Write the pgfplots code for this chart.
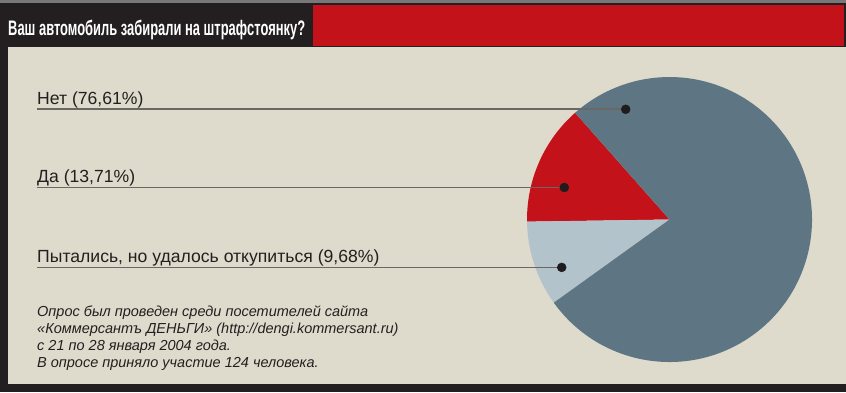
\documentclass[border=0pt]{standalone}
\usepackage{pgfplots}
\pgfplotsset{compat=1.18}
\usepackage{pgfplotstable}
\usepackage{graphicx}
\usepackage{fontspec}
\setmainfont{Liberation Sans}

\definecolor{beige}{RGB}{222,219,204}
\definecolor{hdr}{RGB}{35,31,32}
\definecolor{redc}{RGB}{196,18,26}
\definecolor{netc}{RGB}{94,118,131}
\definecolor{pytc}{RGB}{178,195,204}
\definecolor{linec}{RGB}{105,104,100}
\definecolor{dotc}{RGB}{30,28,28}
\definecolor{textc}{RGB}{35,31,32}
\definecolor{bordc}{RGB}{120,120,120}

\pgfplotstableread{
label pct
Da 13.71
Pyt 9.68
Net 76.61
}\piedata

\begin{document}
\begin{tikzpicture}[x=1bp,y=-1bp]
\pgfplotstablegetelem{0}{pct}\of\piedata \let\pDa\pgfplotsretval
\pgfplotstablegetelem{1}{pct}\of\piedata \let\pPy\pgfplotsretval
\pgfplotstablegetelem{2}{pct}\of\piedata \let\pNet\pgfplotsretval
\pgfmathsetmacro\aA{131.5}
\pgfmathsetmacro\aB{\aA+3.6*\pDa}
\pgfmathsetmacro\aC{\aB+3.6*\pPy}
\pgfmathsetmacro\aD{\aC+3.6*\pNet}

% frame
\fill[bordc] (0,0) rectangle (846,392);
\fill[hdr] (0,3) rectangle (846,392);
\fill[redc] (313,5) rectangle (844,46);
\fill[beige] (8,47) rectangle (846,384);

% title
\node[anchor=base west, inner sep=0, text=white] at (8,35)
  {\resizebox{297bp}{\height}{\fontsize{21bp}{21bp}\selectfont\bfseries Ваш автомобиль забирали на штрафстоянку?}};

\begin{axis}[at={(669.5bp,-219.5bp)}, anchor=origin,
  width=285bp, height=285bp, scale only axis,
  xmin=-1, xmax=1, ymin=-1, ymax=1,
  hide axis, clip=false]
  \fill[redc] (axis cs:0,0) -- ++(\aA:142.5bp) arc[start angle=\aA, end angle=\aB, radius=142.5bp] -- cycle;
  \fill[pytc] (axis cs:0,0) -- ++(\aB:142.5bp) arc[start angle=\aB, end angle=\aC, radius=142.5bp] -- cycle;
  \fill[netc] (axis cs:0,0) -- ++(\aC:142.5bp) arc[start angle=\aC, end angle=\aD, radius=142.5bp] -- cycle;
  \addplot[draw=linec, line width=1.8bp, forget plot] coordinates {(-4.4386,0.7733) (-0.3074,0.7733)};
  \addplot[draw=linec, line width=1.8bp, forget plot] coordinates {(-4.4386,0.2246) (-0.7382,0.2246)};
  \addplot[draw=linec, line width=1.8bp, forget plot] coordinates {(-4.4386,-0.3361) (-0.7565,-0.3361)};
  \addplot[only marks, mark=*, mark size=4.5bp, draw=dotc, fill=dotc, forget plot]
    coordinates {(-0.3074,0.7733) (-0.7382,0.2246) (-0.7565,-0.3361)};
\end{axis}

\begin{scope}[every node/.style={anchor=base west, inner sep=0, text=textc, font=\fontsize{17.6bp}{17.6bp}\selectfont}]
\node at (37,104) {Нет (76,61\%)};
\node at (37,182) {Да (13,71\%)};
\node at (37,262) {Пытались, но удалось откупиться (9,68\%)};
\end{scope}

\begin{scope}[every node/.style={anchor=base west, inner sep=0, text=textc, font=\fontsize{14.5bp}{14.5bp}\selectfont\itshape}]
\node at (37,316) {Опрос был проведен среди посетителей сайта};
\node at (37,333) {«Коммерсантъ ДЕНЬГИ» (http://dengi.kommersant.ru)};
\node at (37,350) {с 21 по 28 января 2004 года.};
\node at (37,367) {В опросе приняло участие 124 человека.};
\end{scope}
\end{tikzpicture}
\end{document}
